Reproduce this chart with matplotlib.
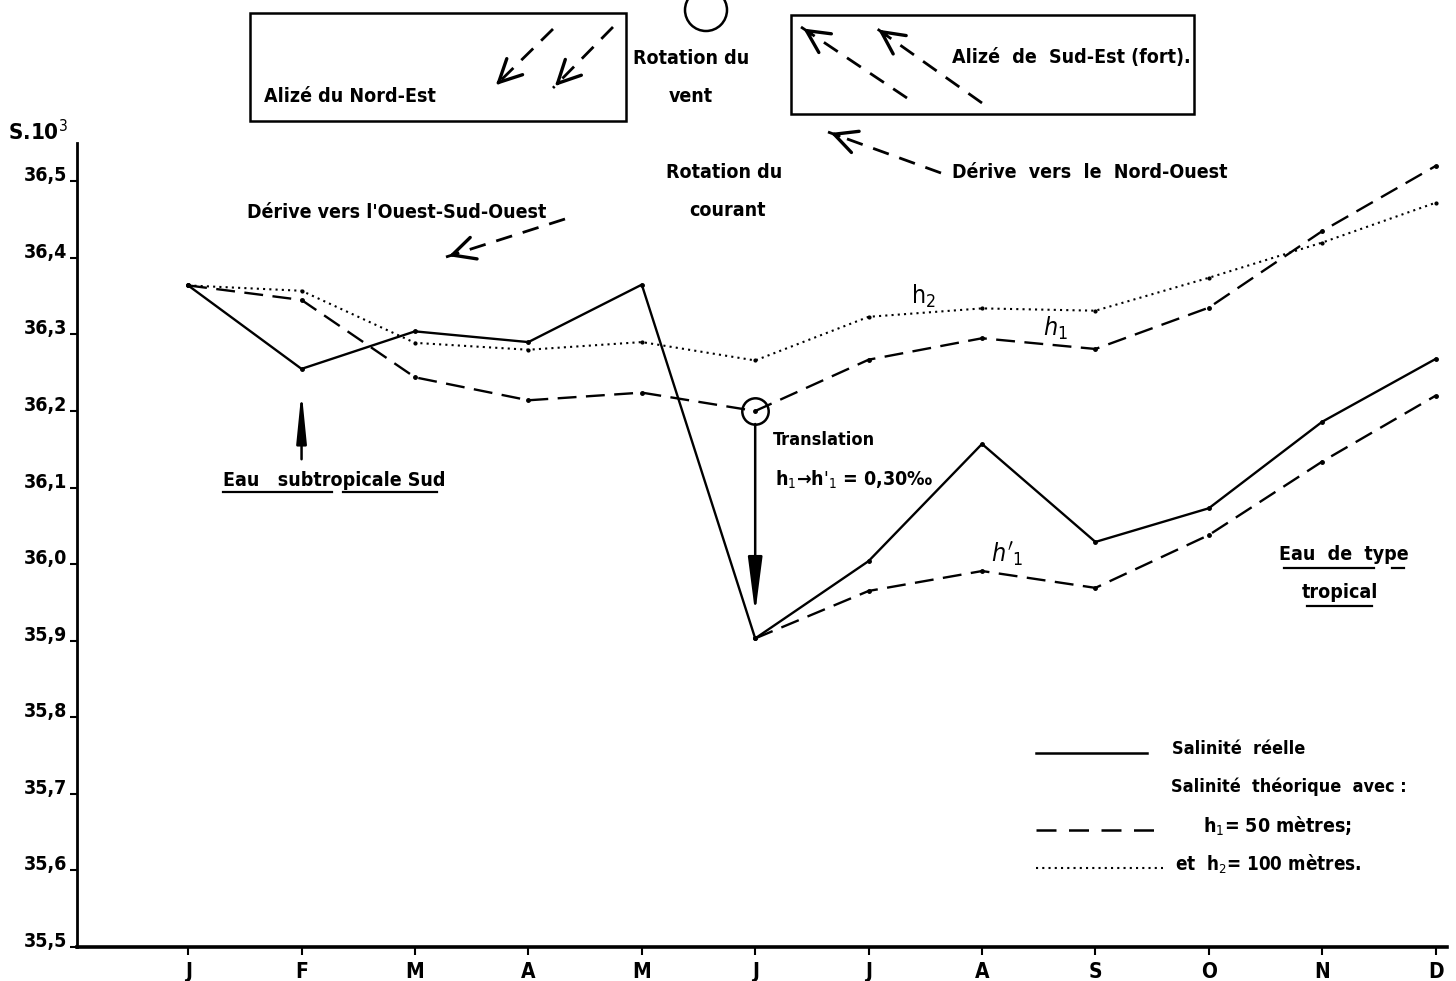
import numpy as np
import matplotlib
matplotlib.use("Agg")
import matplotlib.pyplot as plt
from matplotlib.lines import Line2D
from matplotlib.patches import Rectangle, Ellipse, FancyArrowPatch

# ---------------- data ----------------
months = ["J", "F", "M", "A", "M", "J", "J", "A", "S", "O", "N", "D"]
salinite_reelle = [36.364, 36.255, 36.304, 36.290, 36.365, 35.903,
                   36.004, 36.157, 36.029, 36.073, 36.186, 36.268]
theorique_h1 = [36.364, 36.345, 36.244, 36.214, 36.224, 36.200,
                36.267, 36.295, 36.281, 36.335, 36.435, 36.520]
theorique_h2 = [36.364, 36.357, 36.289, 36.280, 36.290, 36.266,
                36.323, 36.334, 36.331, 36.374, 36.420, 36.472]
# h'1 : h1 translated by 0.30 (from June onwards)
h1_prime_months = [5, 6, 7, 8, 9, 10, 11]
theorique_h1_prime = [35.903, 35.965, 35.991, 35.969, 36.038, 36.134, 36.220]
yticks = [35.5, 35.6, 35.7, 35.8, 35.9, 36.0, 36.1, 36.2, 36.3, 36.4, 36.5]
ytick_labels = ["35,5", "35,6", "35,7", "35,8", "35,9", "36,0",
                "36,1", "36,2", "36,3", "36,4", "36,5"]

# ---------------- style ----------------
FONT = ["DejaVu Sans"]
plt.rcParams["font.family"] = FONT
plt.rcParams["font.stretch"] = "condensed"
W, H = 1456, 981
fig = plt.figure(figsize=(W / 100, H / 100), dpi=100)
fig.patch.set_facecolor("white")


def P(x, y):
    return (x / W, 1 - y / H)


ax = fig.add_axes([77 / W, 1 - 947 / H, (1447 - 77) / W, (947 - 143) / H])
x = np.arange(len(months))

ax.plot(x, salinite_reelle, color="black", lw=1.7, marker="o", ms=2.5)
ax.plot(x, theorique_h1, color="black", lw=1.7, dashes=(8, 4), marker="o", ms=2.5)
ax.plot(x, theorique_h2, color="black", lw=1.5, ls=(0, (1, 2.0)), marker="o", ms=2)
ax.plot(h1_prime_months, theorique_h1_prime, color="black", lw=1.7, dashes=(8, 4),
        marker="o", ms=2.5)

ax.set_xlim(-0.98, 11.1)
ax.set_ylim(35.5, 36.55)
ax.set_xticks(x)
ax.set_xticklabels(months, fontsize=15, fontweight="bold", stretch="condensed")
ax.set_yticks(yticks)
ax.set_yticklabels(ytick_labels, fontsize=14, fontweight="bold", stretch="condensed")
for lab in ax.get_yticklabels():
    lab.set_verticalalignment("baseline")
ax.tick_params(axis="x", direction="out", length=6, width=1.5, pad=5)
ax.tick_params(axis="y", direction="out", length=5, width=1.5, pad=2)
for s in ["top", "right"]:
    ax.spines[s].set_visible(False)
ax.spines["bottom"].set_linewidth(2.6)
ax.spines["left"].set_linewidth(2.0)
ax.patch.set_alpha(0)

# circle on h1 in June and translation arrow
ax.plot(5, theorique_h1[5], marker="o", ms=19, mfc="none", mec="black", mew=1.8)
ax.annotate("", xy=(5, 35.936), xytext=(5, theorique_h1[5] - 0.017),
            arrowprops=dict(arrowstyle="-|>,head_length=1.7,head_width=0.22",
                            lw=1.8, color="black", shrinkA=0, shrinkB=0,
                            mutation_scale=20))
# arrow to February (Eau subtropicale Sud)
ax.annotate("", xy=(1, 36.226), xytext=(1, 36.137),
            arrowprops=dict(arrowstyle="-|>,head_length=1.5,head_width=0.15",
                            lw=1.8, color="black", shrinkA=0, shrinkB=0,
                            mutation_scale=20))

# y label
fig.text(*P(8, 132), "S.10$^3$", fontsize=16, fontweight="bold", ha="left", va="center",
         stretch="condensed")


def txt(x, y, s, size=14, ha="left", **kw):
    fig.text(*P(x, y), s, fontsize=size, fontweight="bold", ha=ha, va="center",
             stretch="condensed", **kw)


def fline(x0, y0, x1, y1, **kw):
    fig.add_artist(Line2D([x0 / W, x1 / W], [1 - y0 / H, 1 - y1 / H],
                          transform=fig.transFigure, color="black", **kw))


def dashed_arrow(x0, y0, x1, y1, lw=2.0):
    # tail (x0,y0) -> head (x1,y1), pixel coordinates
    fig.add_artist(Line2D([x0 / W, x1 / W], [1 - y0 / H, 1 - y1 / H],
                          transform=fig.transFigure, color="black", lw=lw,
                          dashes=(6, 4)))
    fig.add_artist(FancyArrowPatch(
        P(x1 + (x0 - x1) * 0.12, y1 + (y0 - y1) * 0.12), P(x1, y1),
        transform=fig.transFigure, arrowstyle="->,head_length=0.9,head_width=0.45",
        mutation_scale=18, lw=lw + 0.4, color="black"))


# boxes
fig.add_artist(Rectangle(P(250, 121), 376 / W, 108 / H, transform=fig.transFigure,
                         fill=False, lw=1.8, ec="black"))
fig.add_artist(Rectangle(P(791, 114), 403 / W, 99 / H, transform=fig.transFigure,
                         fill=False, lw=1.8, ec="black"))
txt(264, 97, "Alizé du Nord-Est")
dashed_arrow(553, 29, 494, 87)
dashed_arrow(613, 27, 553, 88)
txt(952, 58, "Alizé  de  Sud-Est (fort).")
dashed_arrow(907, 98, 801, 27)
dashed_arrow(982, 103, 876, 28)

txt(691, 58, "Rotation du", ha="center")
txt(691, 97, "vent", ha="center")
fig.add_artist(Ellipse(P(706, 10), 42 / W, 42 / H, transform=fig.transFigure,
                       fill=False, lw=1.8, ec="black"))

dashed_arrow(941, 173, 828, 132)
txt(952, 173, "Dérive  vers  le  Nord-Ouest")
txt(724, 173, "Rotation du", ha="center")
txt(727, 211, "courant", ha="center")
txt(247, 212, "Dérive vers l'Ouest-Sud-Ouest")
dashed_arrow(565, 219, 446, 257)

# Eau subtropicale Sud
txt(223, 480, "Eau   subtropicale Sud")
fline(223, 492, 332, 492, lw=1.6)
fline(343, 492, 437, 492, lw=1.6)

# Translation
txt(773, 440, "Translation", 13)
txt(775, 480, "h$_1$\u2192h$'_1$ = 0,30\u2030")

# curve labels
fig.text(*P(923, 296), "h$_2$", fontsize=18, ha="center", va="center")
fig.text(*P(1055, 328), "$h_1$", fontsize=18, ha="center", va="center")
fig.text(*P(1007, 555), "$h'_1$", fontsize=18, ha="center", va="center")

# Eau de type tropical
txt(1344, 555, "Eau  de  type", ha="center")
fline(1284, 568, 1374, 568, lw=1.6)
fline(1392, 568, 1404, 568, lw=1.6)
txt(1340, 593, "tropical", ha="center")
fline(1307, 606, 1372, 606, lw=1.6)

# legend
fline(1036, 753, 1147, 753, lw=1.8)
txt(1172, 749, "Salinité  réelle", 13)
txt(1171, 787, "Salinité  théorique  avec :", 13)
fline(1036, 830, 1165, 830, lw=1.8, dashes=(8, 5))
txt(1203, 826, "h$_1$= 50 mètres;")
fline(1036, 868, 1163, 868, lw=1.5, ls=(0, (1, 2.0)))
txt(1175, 864, "et  h$_2$= 100 mètres.", 13.5)

fig.savefig("out.png", dpi=100, facecolor="white")
